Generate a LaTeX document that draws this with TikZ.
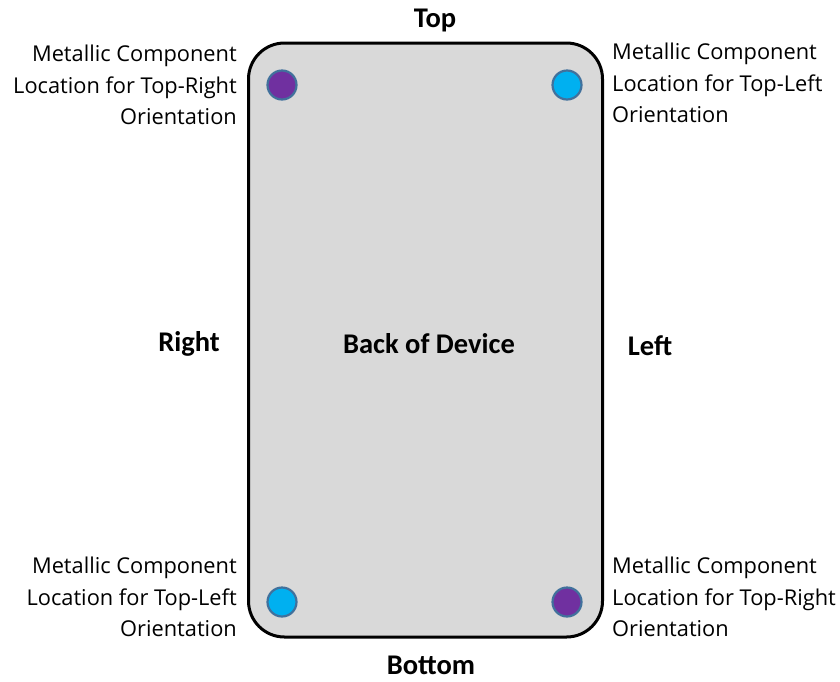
\documentclass[tikz,border=0pt]{standalone}
\usepackage{fontspec}
\setmainfont{Carlito}
\newfontfamily\notefont{Open Sans}
\definecolor{devgray}{HTML}{D9D9D9}
\definecolor{dotpurple}{HTML}{7030A0}
\definecolor{dotblue}{HTML}{00B0F0}
\definecolor{dotedge}{HTML}{41719C}
\begin{document}
\begin{tikzpicture}[x=1pt,y=-1pt,
  dot/.style={circle,minimum size=29pt,inner sep=0pt,draw=dotedge,line width=2.2pt},
  side/.style={font=\fontsize{28.5}{32}\selectfont\bfseries,inner sep=0pt},
  notel/.style={align=right,font=\notefont\fontsize{21.8}{31.5}\selectfont,inner sep=0pt,anchor=east},
  noter/.style={align=left,font=\notefont\fontsize{21.8}{31.5}\selectfont,inner sep=0pt,anchor=west}]
\useasboundingbox (0,0) rectangle (840,681);
\node[draw=black,line width=3pt,fill=devgray,rounded corners=36pt,minimum width=354pt,minimum height=594pt,inner sep=0pt] (dev) at (425.5,340) {};
\node[side] (back) at (429,344) {Back of Device};
\node[side] (top) at (435,20) {Top};
\node[side] (bottom) at (431,665) {Bottom};
\node[side] (right) at (189,344) {Right};
\node[side] (left) at (650,346) {Left};
\node[dot,fill=dotpurple] (tl) at (282,85) {};
\node[dot,fill=dotblue] (tr) at (567,85) {};
\node[dot,fill=dotblue] (bl) at (282,602) {};
\node[dot,fill=dotpurple] (br) at (567,602) {};
\node[notel] (ntl) at (237,85) {Metallic Component\\Location for Top-Right\\Orientation};
\node[noter] (ntr) at (612,83) {Metallic Component\\Location for Top-Left\\Orientation};
\node[notel] (nbl) at (237,597) {Metallic Component\\Location for Top-Left\\Orientation};
\node[noter] (nbr) at (612,597) {Metallic Component\\Location for Top-Right\\Orientation};
\end{tikzpicture}
\end{document}
